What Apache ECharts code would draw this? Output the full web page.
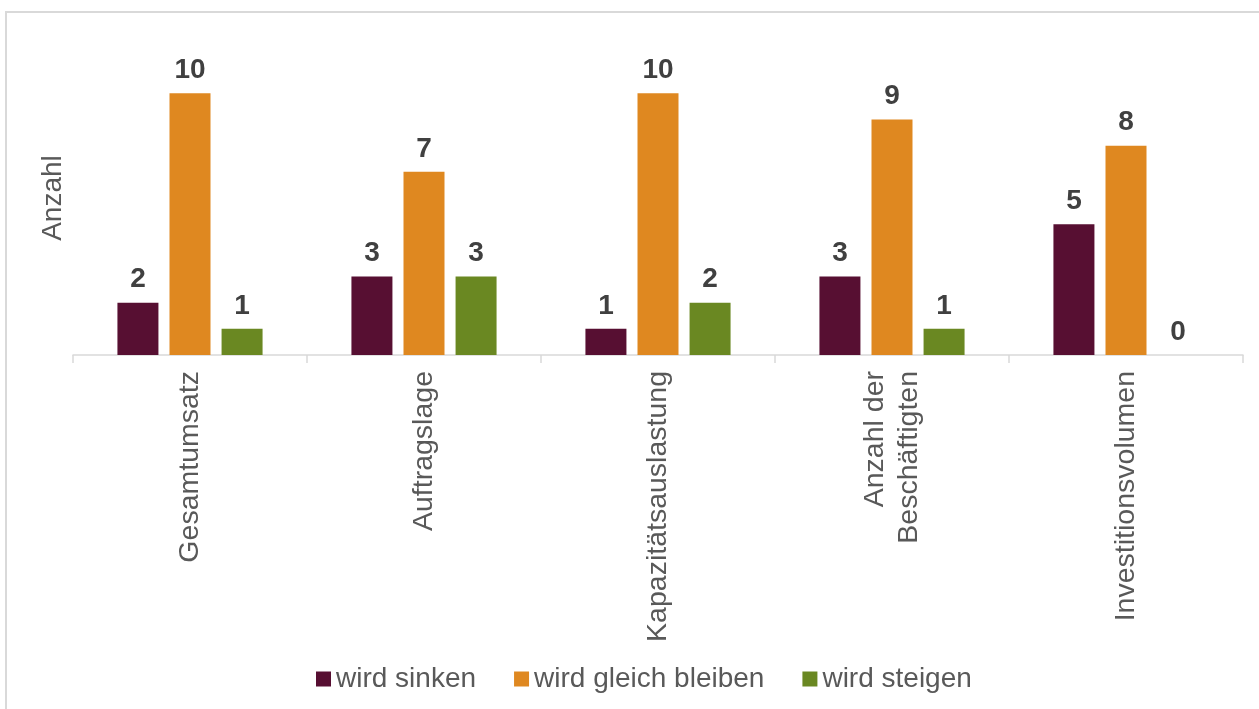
<!DOCTYPE html>
<html>
<head>
<meta charset="utf-8">
<script src="https://cdn.jsdelivr.net/npm/echarts@6/dist/echarts.min.js"></script>
<style>
  html, body { margin: 0; padding: 0; background: #fff; }
  #chart { width: 1259px; height: 709px; }
</style>
</head>
<body>
<div id="chart"></div>
<script>
const categories = ['Gesamtumsatz', 'Auftragslage', 'Kapazitätsauslastung', 'Anzahl der\nBeschäftigten', 'Investitionsvolumen']
const sinken = [2, 3, 1, 3, 5]
const gleich = [10, 7, 10, 9, 8]
const steigen = [1, 3, 2, 1, 0]

const font = '"Liberation Sans", Arial, sans-serif'

var chart = echarts.init(document.getElementById('chart'))

const barLabel = {
  show: true,
  position: 'top',
  distance: 9,
  color: '#404040',
  fontSize: 28,
  fontWeight: 'bold',
  fontFamily: font
}

chart.setOption({
  animation: false,
  graphic: [{
    type: 'rect',
    shape: { x: 6, y: 12, width: 1300, height: 800 },
    style: { fill: 'none', stroke: '#d9d9d9', lineWidth: 2 },
    silent: true
  }],
  grid: { left: 73, right: 16, top: 41, bottom: 354 },
  legend: {
    bottom: 11,
    left: 311,
    itemWidth: 15,
    itemHeight: 15,
    itemGap: 38,
    icon: 'rect',
    textStyle: { color: '#595959', fontSize: 28, fontFamily: font }
  },
  xAxis: {
    type: 'category',
    data: categories,
    axisLine: { lineStyle: { color: '#d9d9d9', width: 1.5 } },
    axisTick: { show: true, length: 8, lineStyle: { color: '#d9d9d9', width: 1.5 } },
    axisLabel: {
      rotate: 90,
      margin: 16,
      interval: 0,
      color: '#595959',
      fontSize: 28.5,
      fontFamily: font,
      lineHeight: 34
    }
  },
  yAxis: {
    type: 'value',
    min: 0,
    max: 12,
    name: 'Anzahl',
    nameLocation: 'middle',
    nameGap: 6,
    nameTextStyle: { color: '#595959', fontSize: 28, fontFamily: font },
    axisLabel: { show: false },
    axisLine: { show: false },
    axisTick: { show: false },
    splitLine: { show: false }
  },
  series: [
    { name: 'wird sinken', type: 'bar', data: sinken, barWidth: 41, barGap: '27%', itemStyle: { color: '#570F32' }, label: barLabel },
    { name: 'wird gleich bleiben', type: 'bar', data: gleich, barWidth: 41, barGap: '27%', itemStyle: { color: '#DF8820' }, label: barLabel },
    { name: 'wird steigen', type: 'bar', data: steigen, barWidth: 41, barGap: '27%', itemStyle: { color: '#6A8822' }, label: barLabel }
  ]
})
</script>
</body>
</html>
